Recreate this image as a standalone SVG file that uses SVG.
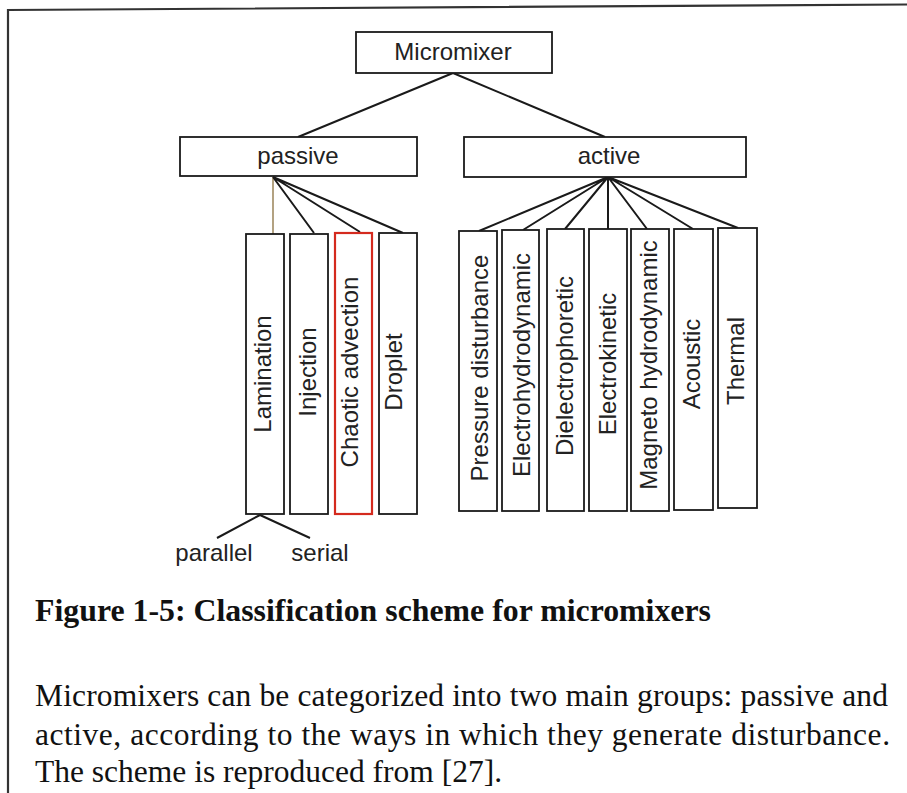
<svg xmlns="http://www.w3.org/2000/svg" width="907" height="793" viewBox="0 0 907 793">
<style>
.box{fill:#fff;stroke:#1a1a1a;stroke-width:1.8}
.red{fill:#fff;stroke:#d42a1e;stroke-width:2.2}
.lbl{font-family:"Liberation Sans",Arial,sans-serif;font-size:24px;fill:#222;text-anchor:middle}
.con{stroke:#1a1a1a;stroke-width:2;fill:none}
.cap{font-family:"Liberation Serif","Times New Roman",serif;fill:#111}
</style>
<rect width="907" height="793" fill="#fff"/>
<g id="frame"><path d="M8,793 L8,10 L907,4.5" fill="none" stroke="#333" stroke-width="2.2"/></g>

<g id="connectors">
<path class="con" d="M453,73 L298,137 M453,73 L605,137"/>
<path d="M273,177 L273,234" stroke="#a08b62" stroke-width="1.6"/>
<path class="con" d="M273,177 L314,233 M273,177 L360,232 M273,177 L403,233"/>
<path class="con" d="M608,177 L479,231 M608,177 L523,230 M608,177 L565,229 M608,177 L608,229 M608,177 L647,229 M608,177 L693,229 M608,177 L738,228"/>
<path class="con" d="M260,515 L217,538 M260,515 L310,538"/>
</g>

<g id="micromixer"><rect class="box" x="356" y="32" width="196" height="41"/><text class="lbl" x="453" y="60">Micromixer</text></g>
<g id="passive"><rect class="box" x="180" y="137" width="237" height="39"/><text class="lbl" x="298" y="164">passive</text></g>
<g id="active"><rect class="box" x="464" y="137" width="282" height="40"/><text class="lbl" x="609" y="164">active</text></g>

<g id="lamination"><rect class="box" x="246" y="234" width="38" height="280"/><text class="lbl" transform="translate(271,374) rotate(-90)">Lamination</text></g>
<g id="injection"><rect class="box" x="290" y="234" width="38" height="280"/><text class="lbl" transform="translate(316,372) rotate(-90)">Injection</text></g>
<g id="chaotic"><rect class="red" x="335" y="233" width="37" height="281"/><text class="lbl" transform="translate(358,372) rotate(-90)">Chaotic advection</text></g>
<g id="droplet"><rect class="box" x="379" y="233" width="38" height="281"/><text class="lbl" transform="translate(402,372) rotate(-90)">Droplet</text></g>

<g id="pressure"><rect class="box" x="459" y="231" width="38" height="280"/><text class="lbl" transform="translate(488,368) rotate(-90)">Pressure disturbance</text></g>
<g id="electrohydrodynamic"><rect class="box" x="502" y="230" width="37" height="281"/><text class="lbl" transform="translate(530,365) rotate(-90)">Electrohydrodynamic</text></g>
<g id="dielectrophoretic"><rect class="box" x="547" y="229" width="37" height="282"/><text class="lbl" transform="translate(573,366) rotate(-90)">Dielectrophoretic</text></g>
<g id="electrokinetic"><rect class="box" x="589" y="229" width="38" height="282"/><text class="lbl" transform="translate(616,364) rotate(-90)">Electrokinetic</text></g>
<g id="magneto"><rect class="box" x="631" y="229" width="38" height="282"/><text class="lbl" transform="translate(657,365) rotate(-90)">Magneto hydrodynamic</text></g>
<g id="acoustic"><rect class="box" x="674" y="229" width="39" height="281"/><text class="lbl" transform="translate(700,364) rotate(-90)">Acoustic</text></g>
<g id="thermal"><rect class="box" x="718" y="228" width="39" height="280"/><text class="lbl" transform="translate(744,361) rotate(-90)">Thermal</text></g>

<g id="parallel"><text class="lbl" x="214" y="561">parallel</text></g>
<g id="serial"><text class="lbl" x="320" y="561">serial</text></g>

<g id="caption">
<text class="cap" x="35" y="621" font-size="31.5" font-weight="bold" textLength="676" lengthAdjust="spacingAndGlyphs">Figure 1-5: Classification scheme for micromixers</text>
<text class="cap" x="35" y="706" font-size="31.5" textLength="853" lengthAdjust="spacing">Micromixers can be categorized into two main groups: passive and</text>
<text class="cap" x="35" y="745" font-size="31.5" textLength="855" lengthAdjust="spacing">active, according to the ways in which they generate disturbance.</text>
<text class="cap" x="35" y="782" font-size="31.5">The scheme is reproduced from [27].</text>
</g>
</svg>
